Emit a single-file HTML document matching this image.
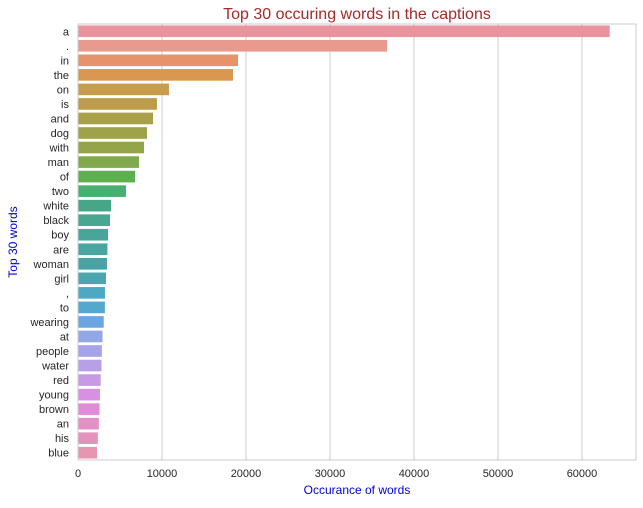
<!DOCTYPE html>
<html><head><meta charset="utf-8"><style>
body{margin:0;background:#fff;font-family:"Liberation Sans","DejaVu Sans",sans-serif;}
</style></head><body>
<svg id="chart" width="643" height="503" xmlns="http://www.w3.org/2000/svg">
<text x="357" y="19" text-anchor="middle" font-size="16" fill="#a52a2a">Top 30 occuring words in the captions</text>
<text x="357" y="494" text-anchor="middle" font-size="12" fill="#0000cd">Occurance of words</text>
<text x="17" y="242" text-anchor="middle" font-size="12" fill="#0000cd" transform="rotate(-90 17 242)">Top 30 words</text>
<g id="grid"></g><g id="bars"></g><g id="ticks"></g>
<rect x="78" y="24" width="558" height="436" fill="none" stroke="#ccc" stroke-width="1"/>
</svg>
<script>
const categories=["a",".","in","the","on","is","and","dog","with","man","of","two","white","black","boy","are","woman","girl",",","to","wearing","at","people","water","red","young","brown","an","his","blue"];
const values=[63300,36800,19050,18450,10830,9400,8930,8210,7860,7260,6790,5710,3930,3810,3570,3500,3450,3330,3210,3200,3060,2920,2840,2800,2700,2610,2570,2480,2360,2270];
const xTicks=[0,10000,20000,30000,40000,50000,60000];
const colors=["#e8939e","#e99a8f","#e6936b","#d9974f","#c89c4e","#bd9c4c","#a9a04a","#9ea248","#93a548","#7fa94a","#5db04d","#4aae70","#48a688","#48a790","#48a59a","#48a5a0","#48a3a5","#4aa5b0","#4da8c4","#52a8cf","#6aa6e0","#92a8e6","#a6a3e6","#b8a0e6","#c89ae3","#d890e2","#e08cd6","#e48fc6","#e492bb","#e696b0"];
const X0=78,X1=636,XMAX=66430,Y0=24,Y1=460;
const x=v=>X0+v/XMAX*(X1-X0);
const band=(Y1-Y0)/categories.length;
const y=i=>Y0+i*band;
const ns="http://www.w3.org/2000/svg";
const g=document.getElementById('grid'),b=document.getElementById('bars'),t=document.getElementById('ticks');
xTicks.forEach(v=>{
 const l=document.createElementNS(ns,'line');
 l.setAttribute('x1',x(v));l.setAttribute('x2',x(v));l.setAttribute('y1',Y0);l.setAttribute('y2',Y1);
 l.setAttribute('stroke','#ccc');
 
 
 g.appendChild(l);
 const tx=document.createElementNS(ns,'text');
 tx.setAttribute('x',x(v));tx.setAttribute('y',Y1+17);tx.setAttribute('text-anchor','middle');tx.setAttribute('font-size','11');tx.setAttribute('fill','#262626');
 tx.textContent=v;
 
 
 t.appendChild(tx);
});
categories.forEach((c,i)=>{
 const r=document.createElementNS(ns,'rect');
 r.setAttribute('x',X0);r.setAttribute('y',y(i)+band*0.1);r.setAttribute('width',x(values[i])-X0);r.setAttribute('height',band*0.8);
 r.setAttribute('fill',colors[i]);
 
 
 b.appendChild(r);
 const tx=document.createElementNS(ns,'text');
 tx.setAttribute('x',X0-9);tx.setAttribute('y',y(i)+band/2+4);tx.setAttribute('text-anchor','end');tx.setAttribute('font-size','11');tx.setAttribute('fill','#262626');
 tx.textContent=c;
 
 
 t.appendChild(tx);
});
</script>
</body></html>
